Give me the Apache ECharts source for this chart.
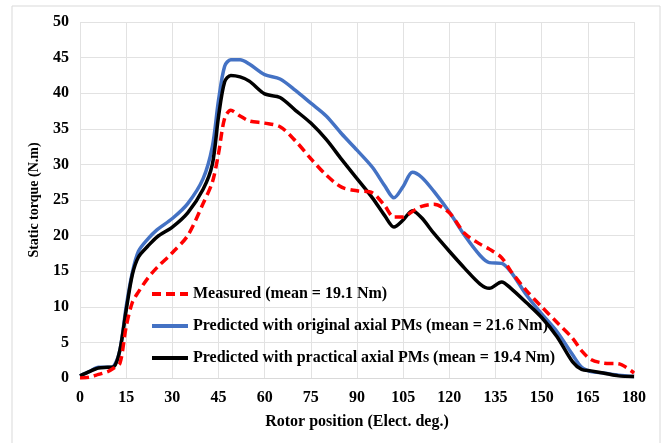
<!DOCTYPE html>
<html>
<head>
<meta charset="utf-8">
<script src="https://cdn.jsdelivr.net/npm/echarts@6/dist/echarts.min.js"></script>
<style>
  html, body { margin: 0; padding: 0; background: #fff; }
  #chart { width: 662px; height: 443px; }
</style>
</head>
<body>
<div id="chart"></div>
<script>
// rotor position (elect. deg.)
const angles = [0, 3, 6, 9, 11, 13, 15, 17, 19, 22, 25, 30, 35, 40, 43, 45, 47, 49, 52, 55,
    60, 65, 70, 75, 80, 85, 90, 95, 99, 102, 105, 108, 111, 115, 120, 125, 130, 133, 137,
    140, 145, 150, 155, 160, 163, 166, 170, 175, 180]

const measured = [0, 0.1, 0.5, 0.9, 1.4, 2.1, 7.2, 10.6, 12.1, 14.0, 15.5, 17.6, 20.0, 24.5, 27.5, 31.5, 36.5, 37.6, 36.8, 36.1,
    35.8, 35.3, 33.3, 30.8, 28.5, 26.8, 26.3, 26.0, 24.2, 22.6, 22.6, 23.4, 24.1, 24.4, 23.2, 20.3, 18.8, 18.1, 16.9,
    15.0, 12.3, 10.0, 7.8, 5.6, 3.8, 2.6, 2.1, 2.0, 0.7]

const predOriginal = [0.3, 0.9, 1.5, 1.5, 1.7, 4.0, 10.0, 14.8, 17.8, 19.5, 20.8, 22.4, 24.5, 28.0, 32.5, 39.0, 43.8, 44.7, 44.7, 44.1,
    42.6, 42.0, 40.4, 38.6, 36.8, 34.3, 32.0, 29.6, 27.0, 25.3, 26.9, 28.9, 28.2, 26.2, 23.3, 20.0, 17.2, 16.2, 16.1,
    14.9, 11.7, 9.0, 6.5, 3.3, 1.5, 0.9, 0.7, 0.4, 0.2]

const predPractical = [0.3, 0.9, 1.4, 1.5, 1.6, 4.0, 9.5, 14.5, 17.0, 18.5, 19.8, 21.2, 23.2, 26.5, 30.0, 36.7, 41.6, 42.5, 42.3, 41.7,
    39.9, 39.4, 37.6, 35.8, 33.5, 30.7, 28.0, 25.3, 22.8, 21.2, 22.2, 23.5, 22.5, 20.3, 17.8, 15.4, 13.2, 12.6, 13.5,
    12.6, 10.6, 8.5, 5.8, 2.3, 1.2, 1.0, 0.7, 0.3, 0.2]

const seriesNames = [
    'Measured (mean = 19.1 Nm)',
    'Predicted with original axial PMs (mean = 21.6 Nm)',
    'Predicted with practical axial PMs (mean = 19.4 Nm)'
]

const pairs = vals => angles.map((a, i) => [a, vals[i]])

const font = 'Liberation Serif, Times New Roman, serif'

const myChart = echarts.init(document.querySelector('#chart'), null, { renderer: 'canvas' })
myChart.setOption({
    animation: false,
    backgroundColor: '#fff',
    graphic: [{
        type: 'rect',
        shape: { x: 12, y: 6, width: 648, height: 445 },
        style: { fill: 'none', stroke: '#d9d9d9', lineWidth: 1 },
        silent: true
    }],
    grid: { left: 80, right: 28, top: 22, bottom: 65 },
    legend: {
        orient: 'vertical',
        left: 145,
        top: 281,
        itemWidth: 36,
        itemHeight: 14,
        itemGap: 16,
        itemStyle: { opacity: 0 },
        lineStyle: { width: 4 },
        textStyle: { fontFamily: font, fontWeight: 'bold', fontSize: 16, color: '#000' },
        data: seriesNames
    },
    xAxis: {
        type: 'value',
        min: 0,
        max: 180,
        interval: 15,
        name: 'Rotor position (Elect. deg.)',
        nameLocation: 'middle',
        nameGap: 36,
        nameTextStyle: { fontFamily: font, fontWeight: 'bold', fontSize: 16, color: '#000' },
        axisLine: { show: true, lineStyle: { color: '#d9d9d9' } },
        axisTick: { show: false },
        axisLabel: { fontFamily: font, fontWeight: 'bold', fontSize: 16, color: '#000', margin: 12 },
        splitLine: { show: true, lineStyle: { color: '#e2e2e2' } }
    },
    yAxis: {
        type: 'value',
        min: 0,
        max: 50,
        interval: 5,
        name: 'Static torque (N.m)',
        nameLocation: 'middle',
        nameGap: 39,
        nameTextStyle: { fontFamily: font, fontWeight: 'bold', fontSize: 14, color: '#000' },
        axisLine: { show: false },
        axisTick: { show: false },
        axisLabel: { fontFamily: font, fontWeight: 'bold', fontSize: 16, color: '#000', margin: 11 },
        splitLine: { show: true, lineStyle: { color: '#e2e2e2' } }
    },
    series: [
        {
            name: seriesNames[0],
            type: 'line',
            smooth: 0.3,
            symbol: 'none',
            z: 4,
            lineStyle: { color: '#ff0000', width: 3.5, type: [9, 5] },
            itemStyle: { color: '#ff0000' },
            data: pairs(measured)
        },
        {
            name: seriesNames[1],
            type: 'line',
            smooth: 0.3,
            symbol: 'none',
            z: 3,
            lineStyle: { color: '#4472c4', width: 3.5 },
            itemStyle: { color: '#4472c4' },
            data: pairs(predOriginal)
        },
        {
            name: seriesNames[2],
            type: 'line',
            smooth: 0.3,
            symbol: 'none',
            z: 3,
            lineStyle: { color: '#000', width: 3.5 },
            itemStyle: { color: '#000' },
            data: pairs(predPractical)
        }
    ]
})
</script>
</body>
</html>
